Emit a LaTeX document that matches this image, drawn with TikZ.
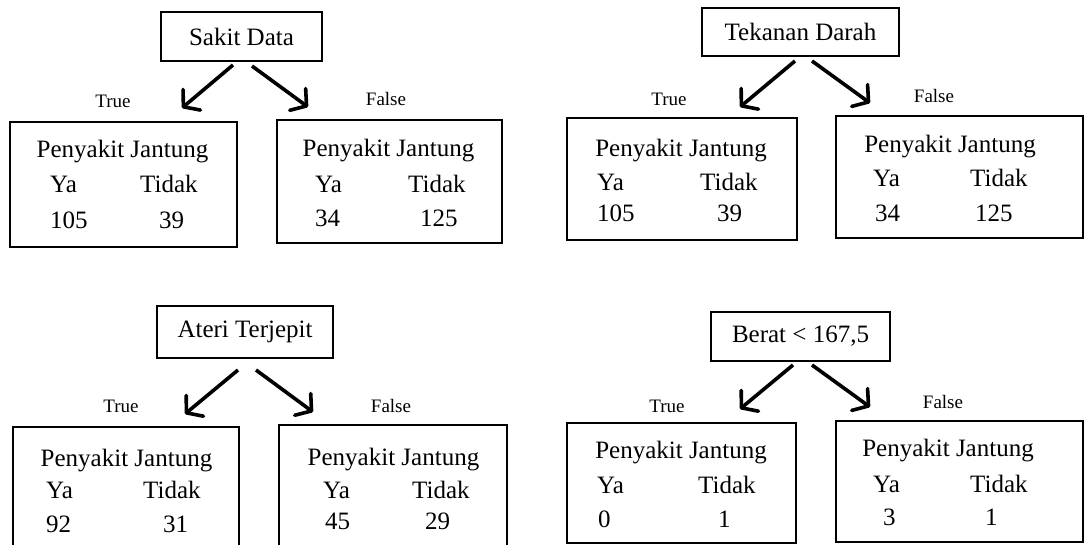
\documentclass[tikz,border=0pt]{standalone}
\usepackage{fontspec}
\setmainfont{Liberation Serif}
\usetikzlibrary{arrows.meta}
\tikzset{
  x=1pt, y=-1pt,
  rootbox/.style={draw, line width=1.5pt, inner sep=0pt, font=\fontsize{25}{30}\selectfont},
  leafbox/.style={draw, line width=1.5pt, inner sep=0pt},
  txt/.style={inner sep=0pt, font=\fontsize{25}{30}\selectfont, anchor=base west},
  head/.style={inner sep=0pt, font=\fontsize{25}{30}\selectfont, anchor=base},
  lbl/.style={inner sep=0pt, font=\fontsize{19}{23}\selectfont, anchor=base},
  arr/.style={line width=3.6pt, -{Straight Barb[length=11pt,width=27pt,round]}},
}
\begin{document}
\begin{tikzpicture}
\clip (0,0) rectangle (1085,545);
\fill[white] (0,0) rectangle (1085,545);

% ---- Sakit Data ----
\node[rootbox, minimum width=161pt, minimum height=49pt] (sd) at (241.5,36.5) {Sakit Data};
\node[leafbox, minimum width=227pt, minimum height=125pt] (sdT) at (123.5,184.5) {};
\node[leafbox, minimum width=225pt, minimum height=123pt] (sdF) at (389.5,181.5) {};
\coordinate (sdL0) at (233,65);  \coordinate (sdL1) at (182,108);
\coordinate (sdR0) at (252,66);  \coordinate (sdR1) at (308,107);
\draw[arr] (sdL0) -- (sdL1);
\draw[arr] (sdR0) -- (sdR1);
\node[lbl] (sdTl) at (113,108) {True};
\node[lbl] (sdFl) at (386,106) {False};
\node[head] (sdTh) at (122.5,158) {Penyakit Jantung};
\node[txt] (sdTa) at (50,193) {Ya};
\node[txt] (sdTb) at (140,193) {Tidak};
\node[txt] (sdTc) at (50,229) {105};
\node[txt] (sdTd) at (159,229) {39};
\node[head] (sdFh) at (388.5,157) {Penyakit Jantung};
\node[txt] (sdFa) at (315,193) {Ya};
\node[txt] (sdFb) at (408,193) {Tidak};
\node[txt] (sdFc) at (315,227) {34};
\node[txt] (sdFd) at (420,227) {125};

% ---- Tekanan Darah ----
\node[rootbox, minimum width=197pt, minimum height=48pt] (td) at (800.5,32) {Tekanan Darah};
\node[leafbox, minimum width=230pt, minimum height=122pt] (tdT) at (682,179) {};
\node[leafbox, minimum width=247pt, minimum height=122pt] (tdF) at (959.5,177) {};
\coordinate (tdL0) at (795,61);  \coordinate (tdL1) at (740,107);
\coordinate (tdR0) at (812,61);  \coordinate (tdR1) at (870,103);
\draw[arr] (tdL0) -- (tdL1);
\draw[arr] (tdR0) -- (tdR1);
\node[lbl] (tdTl) at (669,106) {True};
\node[lbl] (tdFl) at (934,103) {False};
\node[head] (tdTh) at (681,157) {Penyakit Jantung};
\node[txt] (tdTa) at (597,191) {Ya};
\node[txt] (tdTb) at (700,191) {Tidak};
\node[txt] (tdTc) at (597,222) {105};
\node[txt] (tdTd) at (717,222) {39};
\node[head] (tdFh) at (950,153) {Penyakit Jantung};
\node[txt] (tdFa) at (873,187) {Ya};
\node[txt] (tdFb) at (970,187) {Tidak};
\node[txt] (tdFc) at (875,222) {34};
\node[txt] (tdFd) at (975,222) {125};

% ---- Ateri Terjepit ----
\node[rootbox, minimum width=176pt, minimum height=52pt] (at) at (245,332) {Ateri Terjepit};
\node[leafbox, minimum width=226pt, minimum height=140pt] (atT) at (126,497) {};
\node[leafbox, minimum width=228pt, minimum height=140pt] (atF) at (393,495) {};
\coordinate (atL0) at (238,370);  \coordinate (atL1) at (185,414);
\coordinate (atR0) at (256,370);  \coordinate (atR1) at (313,412);
\draw[arr] (atL0) -- (atL1);
\draw[arr] (atR0) -- (atR1);
\node[lbl] (atTl) at (121,413) {True};
\node[lbl] (atFl) at (391,413) {False};
\node[head] (atTh) at (126.5,466) {Penyakit Jantung};
\node[txt] (atTa) at (46,498) {Ya};
\node[txt] (atTb) at (143,498) {Tidak};
\node[txt] (atTc) at (46,532) {92};
\node[txt] (atTd) at (163,532) {31};
\node[head] (atFh) at (393.5,465) {Penyakit Jantung};
\node[txt] (atFa) at (323,498) {Ya};
\node[txt] (atFb) at (412,498) {Tidak};
\node[txt] (atFc) at (325,529) {45};
\node[txt] (atFd) at (425,529) {29};

% ---- Berat < 167,5 ----
\node[rootbox, minimum width=179pt, minimum height=49pt] (br) at (800.5,336.5) {Berat < 167,5};
\node[leafbox, minimum width=229pt, minimum height=120pt] (brT) at (681.5,483) {};
\node[leafbox, minimum width=247pt, minimum height=121pt] (brF) at (959.5,481.5) {};
\coordinate (brL0) at (793,365);  \coordinate (brL1) at (740,409);
\coordinate (brR0) at (812,365);  \coordinate (brR1) at (870,407);
\draw[arr] (brL0) -- (brL1);
\draw[arr] (brR0) -- (brR1);
\node[lbl] (brTl) at (667,413) {True};
\node[lbl] (brFl) at (943,409) {False};
\node[head] (brTh) at (681,458) {Penyakit Jantung};
\node[txt] (brTa) at (597,493) {Ya};
\node[txt] (brTb) at (698,493) {Tidak};
\node[txt] (brTc) at (598,527) {0};
\node[txt] (brTd) at (718,527) {1};
\node[head] (brFh) at (948,456) {Penyakit Jantung};
\node[txt] (brFa) at (873,492) {Ya};
\node[txt] (brFb) at (970,492) {Tidak};
\node[txt] (brFc) at (883,525) {3};
\node[txt] (brFd) at (985,525) {1};
\end{tikzpicture}
\end{document}
